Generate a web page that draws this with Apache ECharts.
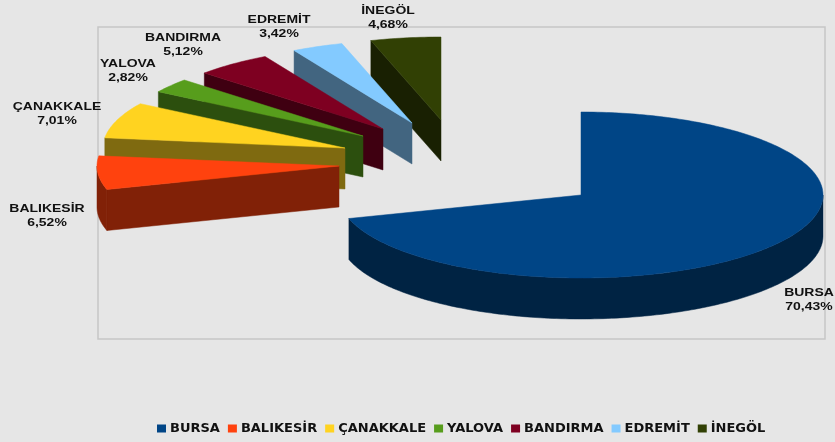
<!DOCTYPE html>
<html><head><meta charset="utf-8">
<style>html,body{margin:0;padding:0;background:#e6e6e6}#c{width:835px;height:442px}</style>
<script src="https://cdn.jsdelivr.net/npm/echarts@6/dist/echarts.min.js"></script>
</head><body><div id="c"></div>
<script>
var categories = ['BURSA','BALIKESİR','ÇANAKKALE','YALOVA','BANDIRMA','EDREMİT','İNEGÖL'];
var values = [70.43,6.52,7.01,2.82,5.12,3.42,4.68];
var valueLabels = ['70,43%','6,52%','7,01%','2,82%','5,12%','3,42%','4,68%'];
var colors = ['#004586','#ff420e','#ffd320','#579d1c','#7e0021','#83caff','#314004'];
var sideColors = ['#002343','#812107','#7f6a10','#2c4f0e','#3f0011','#426580','#192002'];
// layout: exploded centre of each wedge, and label centre
var centres = [[581,195],[339,166],[345,148],[363,136],[383,129],[412,123],[441,120]];
var labelAt = [[809,300],[47,216],[57,114],[128,71],[183,45],[279,27],[388,18]];
var RX = 242, RY = 83, DEPTH = 41;

var total = values.reduce(function(a,b){return a+b;},0);
var starts = [], cum = 0;
values.forEach(function(v){ starts.push(cum/total*360); cum += v; });

function pt(c,deg,dy){
  var t = deg*Math.PI/180;
  return [c[0]+RX*Math.sin(t), c[1]-RY*Math.cos(t)+(dy||0)];
}
function arc(c,a0,a1,dy){
  var pts=[], n=Math.max(2,Math.ceil(Math.abs(a1-a0)));
  for(var i=0;i<=n;i++) pts.push(pt(c,a0+(a1-a0)*i/n,dy));
  return pts;
}
function poly(points,fill,z2){
  return {type:'polygon',shape:{points:points},z2:z2,
    style:{fill:fill,stroke:fill,lineWidth:0.5}};
}
function makeRender(i){
  return function(params,api){
    var c=centres[i], a0=starts[i], a1=a0+api.value(0)/total*360;
    var kids=[];
    if(a0>=180 && a0<360){
      kids.push(poly([pt(c,a0),c,[c[0],c[1]+DEPTH],pt(c,a0,DEPTH)],sideColors[i],1));
    }
    var r0=Math.max(a0,90), r1=Math.min(a1,270);
    if(r1>r0){
      kids.push(poly(arc(c,r0,r1,0).concat(arc(c,r1,r0,DEPTH)),sideColors[i],2));
    }
    kids.push(poly([c].concat(arc(c,a0,a1,0)),api.visual('color'),3));
    return {type:'group',children:kids};
  };
}
var series=[];
for(var i=categories.length-1;i>=0;i--){
  series.push({type:'custom',name:categories[i],coordinateSystem:'none',
    renderItem:makeRender(i),itemStyle:{color:colors[i]},
    data:[[values[i]]],silent:true,animation:false});
}
var graphics=[{type:'rect',shape:{x:98,y:27,width:727,height:312},z:-1,
  style:{fill:'transparent',stroke:'#c6c6c6',lineWidth:1.5}}];
categories.forEach(function(n,i){
  graphics.push({type:'text',x:labelAt[i][0],y:labelAt[i][1],z:10,scaleX:1.27,
    style:{text:n+'\n'+valueLabels[i],align:'center',verticalAlign:'middle',
      font:'bold 11px "Liberation Sans", sans-serif',lineHeight:14.5,fill:'#111'}});
});
var chart=echarts.init(document.getElementById('c'),null,{renderer:'canvas'});
chart.setOption({
  backgroundColor:'#e6e6e6',animation:false,
  legend:{data:categories,left:152,top:417,itemWidth:9,itemHeight:8,itemGap:8,
    icon:'rect',textStyle:{fontFamily:'"DejaVu Sans", sans-serif',fontWeight:'bold',fontSize:13,color:'#111',padding:[0,0,0,-1]}},
  graphic:graphics,
  series:series
});
</script></body></html>
